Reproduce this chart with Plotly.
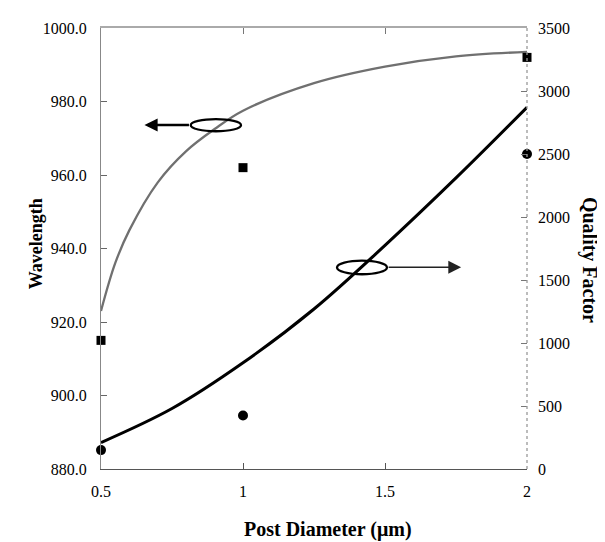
import plotly.graph_objects as go

# ---- data ----
diam_meas = [0.5, 1.0, 2.0]
wl_meas = [915, 962, 992]            # squares, left axis
q_meas = [150, 425, 2500]            # circles, right axis

curve_x_wl = [0.5, 0.55, 0.6, 0.7, 0.8, 0.9, 1.0, 1.25, 1.5, 1.75, 2.0]
curve_wl = [923, 936, 945, 958, 966.5, 972.5, 977.5, 985, 989.5, 992.3, 993.5]

curve_x_q = [0.5, 0.75, 1.0, 1.25, 1.5, 1.75, 2.0]
curve_q = [210, 480, 843, 1270, 1775, 2310, 2870]

x_ticks = [0.5, 1, 1.5, 2]
x_ticklabels = ["0.5", "1", "1.5", "2"]

FONT = "Liberation Serif, Times New Roman, serif"

fig = go.Figure()

fig.add_trace(go.Scatter(x=curve_x_wl, y=curve_wl, mode="lines", line_shape="spline",
                         line=dict(color="#707070", width=2.3), yaxis="y", showlegend=False,
                         cliponaxis=False))
fig.add_trace(go.Scatter(x=curve_x_q, y=curve_q, mode="lines", line_shape="spline",
                         line=dict(color="black", width=3), yaxis="y2", showlegend=False,
                         cliponaxis=False))
fig.add_trace(go.Scatter(x=diam_meas, y=wl_meas, mode="markers", yaxis="y",
                         marker=dict(symbol="square", size=9, color="black"),
                         showlegend=False, cliponaxis=False))
fig.add_trace(go.Scatter(x=diam_meas, y=q_meas, mode="markers", yaxis="y2",
                         marker=dict(symbol="circle", size=10, color="black"),
                         showlegend=False, cliponaxis=False))
# invisible trace to hold the top axis
fig.add_trace(go.Scatter(x=[0.5], y=[900], xaxis="x2", mode="markers",
                         marker=dict(opacity=0), showlegend=False, hoverinfo="skip"))

tickfont = dict(family=FONT, size=16, color="black")

fig.update_layout(
    width=605, height=542,
    margin=dict(l=93, r=86, t=15, b=81),
    paper_bgcolor="white", plot_bgcolor="white",
    font=dict(family=FONT, color="black"),
    xaxis=dict(range=[0.5, 2], tickvals=x_ticks, ticktext=x_ticklabels,
               ticks="inside", ticklen=6, tickcolor="#555", showgrid=False,
               zeroline=False, showline=True, linecolor="#555", linewidth=1.3,
               tickfont=tickfont, ticklabelstandoff=8),
    xaxis2=dict(range=[0.5, 2], overlaying="x", side="top", tickvals=[1, 1.5],
                showticklabels=False, ticks="inside", ticklen=6, tickcolor="#777",
                showgrid=False, zeroline=False, showline=True, linecolor="#aaaaaa",
                linewidth=1.5),
    yaxis=dict(range=[880, 1000], dtick=20, tick0=880, tickformat=".1f",
               ticks="inside", ticklen=6, tickcolor="#666", showgrid=False,
               zeroline=False, showline=True, linecolor="#888", linewidth=1.3,
               tickfont=tickfont, ticklabelstandoff=10),
    yaxis2=dict(range=[0, 3500], dtick=500, tick0=0, overlaying="y", side="right",
                ticks="inside", ticklen=6, tickcolor="#777", showgrid=False,
                zeroline=False, showline=False, tickfont=tickfont,
                ticklabelstandoff=10),
)

# dotted right axis line
fig.add_shape(type="line", xref="paper", yref="paper", x0=1, x1=1, y0=0, y1=1,
              line=dict(color="#999", width=1.3, dash="dot"))

# ellipses
fig.add_shape(type="circle", xref="x", yref="y", x0=0.816, x1=0.993, y0=971.9, y1=975.2,
              line=dict(color="black", width=2.3))
fig.add_shape(type="circle", xref="x", yref="y", x0=1.331, x1=1.507, y0=933.0, y1=936.7,
              line=dict(color="black", width=2.3))

# arrows
fig.add_annotation(x=0.653, y=973.6, xref="x", yref="y", ax=46, ay=0, text="",
                   showarrow=True, arrowhead=2, arrowsize=1.1, arrowwidth=2.4,
                   arrowcolor="black")
fig.add_annotation(x=1.768, y=934.9, xref="x", yref="y", ax=-74, ay=0, text="",
                   showarrow=True, arrowhead=2, arrowsize=1.6, arrowwidth=1.6,
                   arrowcolor="#222")

# axis titles
fig.add_annotation(text="<b>Wavelength</b>", xref="paper", yref="paper", x=-0.152, y=0.51,
                   showarrow=False, textangle=-90,
                   font=dict(family=FONT, size=18, color="black"),
                   xanchor="center", yanchor="middle")
fig.add_annotation(text="<b>Quality Factor</b>", xref="paper", yref="paper", x=1.147, y=0.475,
                   showarrow=False, textangle=90,
                   font=dict(family=FONT, size=20, color="black"),
                   xanchor="center", yanchor="middle")
fig.add_annotation(text="<b>Post Diameter (μm)</b>", xref="paper", yref="paper", x=0.532,
                   y=-0.137, showarrow=False, font=dict(family=FONT, size=20, color="black"),
                   xanchor="center", yanchor="middle")

fig.write_html("out.html")
